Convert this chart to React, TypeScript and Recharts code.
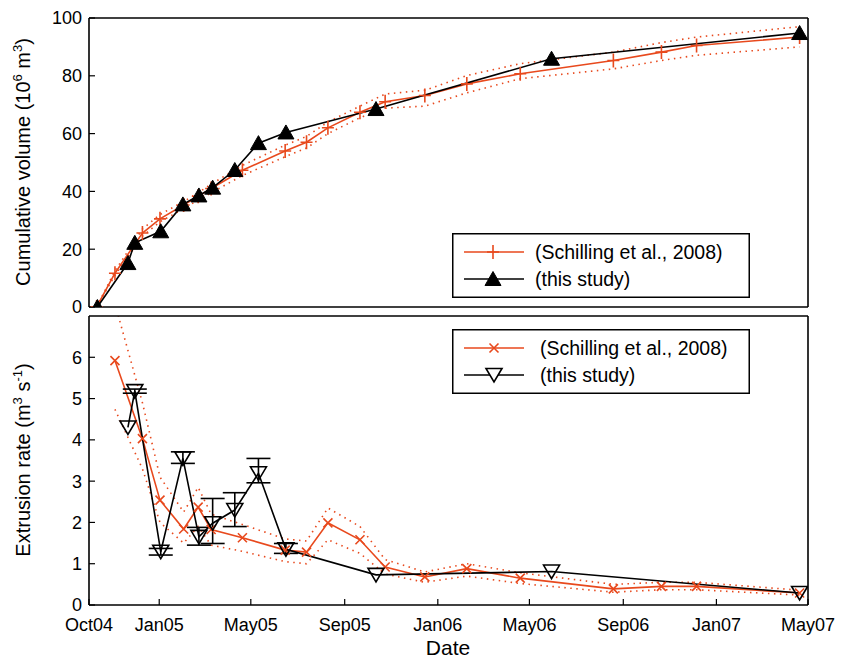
import React from "react";
import { LineChart, Line, XAxis, YAxis, ErrorBar, Legend } from "recharts";

const RED = "#e8491d";
const FONT = "'Liberation Sans', Arial, Helvetica, sans-serif";

const toTs = (s: string) => Date.parse(s + "T00:00:00Z");

// x axis
const xStart = "2004-10-01";
const xEnd = "2007-05-01";
const tickDates = ["2004-10-01", "2005-01-01", "2005-05-01", "2005-09-01", "2006-01-01", "2006-05-01", "2006-09-01", "2007-01-01", "2007-05-01"];
const tickLabels = ["Oct04", "Jan05", "May05", "Sep05", "Jan06", "May06", "Sep06", "Jan07", "May07"];

// Schilling et al. 2008
const schillingDates = [
  "2004-10-11", "2004-11-04", "2004-12-10", "2005-01-02", "2005-02-02", "2005-02-21", "2005-03-10",
  "2005-04-20", "2005-06-15", "2005-07-13", "2005-08-10", "2005-09-21", "2005-10-24", "2005-12-15",
  "2006-02-08", "2006-04-19", "2006-08-19", "2006-10-21", "2006-12-06", "2007-04-20",
];
const schillingVol = [0, 11.7, 25.6, 30.5, 35.3, 38.3, 41.0, 47.3, 54.0, 57.0, 62.0, 67.4, 71.0, 73.2, 77.2, 80.7, 85.3, 88.2, 90.5, 93.4];
const schillingVolHi = [0, 12.5, 27, 32, 36.5, 39.5, 42.5, 49, 56, 59, 64, 69.5, 73.7, 75, 80.1, 84.2, 88.2, 91.5, 93.4, 97];
const schillingVolLo = [0, 11, 24.5, 29.5, 34, 37, 39.5, 45.5, 52, 55, 60, 65.5, 68.8, 69.5, 74.1, 79, 82.4, 85.3, 87.1, 90];

// rates start from the second date
const schillingRate = [5.92, 4.03, 2.54, 1.84, 2.37, 1.83, 1.63, 1.33, 1.28, 1.99, 1.58, 0.92, 0.68, 0.88, 0.65, 0.39, 0.45, 0.45, 0.29];
const schillingRateHi = [7.3, 4.9, 3.1, 2.25, 2.85, 2.2, 1.95, 1.6, 1.55, 2.35, 1.9, 1.1, 0.8, 1.0, 0.78, 0.5, 0.55, 0.55, 0.36];
const schillingRateLo = [4.74, 3.3, 2.0, 1.5, 1.9, 1.45, 1.3, 1.05, 1.0, 1.58, 1.25, 0.75, 0.55, 0.7, 0.52, 0.31, 0.37, 0.37, 0.24];

// this study
const studyDates = [
  "2004-10-12", "2004-11-21", "2004-11-30", "2005-01-03", "2005-02-01", "2005-02-22", "2005-03-12",
  "2005-04-10", "2005-05-11", "2005-06-16", "2005-10-12", "2006-05-30", "2007-04-20",
];
const studyVol = [0, 15.2, 22.2, 26.2, 35.5, 38.6, 41.3, 47.4, 56.7, 60.4, 68.5, 85.9, 94.8];
// rates start from the second date
const studyRate = [4.3, 5.18, 1.29, 3.55, 1.65, 1.98, 2.3, 3.19, 1.35, 0.73, 0.81, 0.29];
const studyRateErrLo = [null, 0.05, 0.08, 0.12, 0.2, 0.49, 0.4, 0.23, 0.1, null, null, null];
const studyRateErrHi = [null, 0.05, 0.08, 0.16, 0.23, 0.6, 0.42, 0.36, 0.14, null, null, null];

const volTicks = [0, 20, 40, 60, 80, 100];
const rateTicks = [0, 1, 2, 3, 4, 5, 6];

const schillingVolRows = schillingDates.map((d, i) => ({ t: toTs(d), v: schillingVol[i], hi: schillingVolHi[i], lo: schillingVolLo[i] }));
const studyVolRows = studyDates.map((d, i) => ({ t: toTs(d), v: studyVol[i] }));
const schillingRateRows = schillingDates.slice(1).map((d, i) => ({ t: toTs(d), v: schillingRate[i], hi: schillingRateHi[i], lo: schillingRateLo[i] }));
const studyRateRows = studyDates.slice(1).map((d, i) => ({
  t: toTs(d),
  v: studyRate[i],
  err: studyRateErrLo[i] == null ? null : [studyRateErrLo[i], studyRateErrHi[i]],
}));

const xTicks = tickDates.map(toTs);
const xDomain = [toTs(xStart), toTs(xEnd)];
const fmtX = (t: number) => tickLabels[xTicks.indexOf(t)] ?? "";

const Plus = ({ cx, cy }: any) => (
  <path d={`M${cx - 6},${cy}H${cx + 6}M${cx},${cy - 7}V${cy + 7}`} stroke={RED} strokeWidth={1.6} fill="none" />
);
const Cross = ({ cx, cy }: any) => (
  <path d={`M${cx - 4.5},${cy - 4.5}L${cx + 4.5},${cy + 4.5}M${cx - 4.5},${cy + 4.5}L${cx + 4.5},${cy - 4.5}`} stroke={RED} strokeWidth={1.6} fill="none" />
);
const TriUp = ({ cx, cy }: any) => (
  <path d={`M${cx},${cy - 7.5}L${cx + 8},${cy + 6.5}L${cx - 8},${cy + 6.5}Z`} fill="#000" stroke="#000" strokeWidth={1} />
);
const TriDown = ({ cx, cy, fill = "none" }: any) => (
  <path d={`M${cx - 8},${cy - 6.5}L${cx + 8},${cy - 6.5}L${cx},${cy + 7}Z`} fill={fill} stroke="#000" strokeWidth={1.6} />
);

const dotOf = (C: any) => (p: any) => (p.cx == null ? <g key={p.index} /> : <C key={p.index} cx={p.cx} cy={p.cy} />);

const LegendBox = ({ marker }: { marker: "vol" | "rate" }) => (
  <svg width={298} height={65} style={{ display: "block" }}>
    <rect x={0.75} y={0.75} width={296.5} height={63.5} fill="#fff" stroke="#000" strokeWidth={1.5} />
    <line x1={12} x2={72} y1={19} y2={19} stroke={RED} strokeWidth={1.5} />
    {marker === "vol" ? <Plus cx={41} cy={19} /> : <Cross cx={42} cy={19} />}
    <line x1={12} x2={72} y1={46} y2={46} stroke="#000" strokeWidth={1.5} />
    {marker === "vol" ? <TriUp cx={41} cy={46} /> : <TriDown cx={42} cy={46} fill="#fff" />}
    <text x={marker === "vol" ? 83 : 88} y={19} dy="0.36em" fontSize={19.5} fontFamily={FONT}>(Schilling et al., 2008)</text>
    <text x={marker === "vol" ? 83 : 88} y={46} dy="0.36em" fontSize={19.5} fontFamily={FONT}>(this study)</text>
  </svg>
);

const VolLabel = () => (
  <text x={30} y={162} transform="rotate(-90, 30, 162)" textAnchor="middle" fontSize={20} fontFamily={FONT} fill="#000">
    Cumulative volume (10<tspan dy={-8} fontSize={13}>6</tspan><tspan dy={8}> m</tspan><tspan dy={-8} fontSize={13}>3</tspan><tspan dy={8}>)</tspan>
  </text>
);
const RateLabel = () => (
  <text x={30} y={152} transform="rotate(-90, 30, 152)" textAnchor="middle" fontSize={20} fontFamily={FONT} fill="#000">
    Extrusion rate (m<tspan dy={-8} fontSize={13}>3</tspan><tspan dy={8}> s</tspan><tspan dy={-8} fontSize={13}>-1</tspan><tspan dy={8}>)</tspan>
  </text>
);
const DateLabel = () => (
  <text x={448} y={347} textAnchor="middle" fontSize={21} fontFamily={FONT} fill="#000">Date</text>
);

const axisLine = { stroke: "#000", strokeWidth: 1.6 };
const tickLine = { stroke: "#000", strokeWidth: 1.2 };
const tickFont = { fontSize: 18, fontFamily: FONT, fill: "#000" };

export default function App() {
  return (
    <div style={{ position: "absolute", left: 0, top: 0, width: 851, height: 661, background: "#fff", fontFamily: FONT }}>
      <div style={{ position: "absolute", left: 0, top: 0 }}>
        <LineChart width={851} height={318} margin={{ top: 17, right: 0, bottom: 0, left: 0 }}>
          <XAxis xAxisId="b" type="number" dataKey="t" domain={xDomain} ticks={xTicks} interval={0} tick={false}
            height={11} tickSize={-6} axisLine={axisLine} tickLine={tickLine} allowDataOverflow />
          <XAxis xAxisId="t" orientation="top" type="number" dataKey="t" domain={xDomain} ticks={xTicks} interval={0} tick={false}
            height={1} tickSize={-6} axisLine={axisLine} tickLine={tickLine} allowDataOverflow />
          <YAxis yAxisId="l" type="number" domain={[0, 100]} ticks={volTicks} interval={0} width={89} tickSize={-6} tickMargin={13}
            axisLine={axisLine} tickLine={tickLine} tick={tickFont} label={<VolLabel />} allowDataOverflow />
          <YAxis yAxisId="r" orientation="right" type="number" domain={[0, 100]} ticks={volTicks} interval={0} width={43} tickSize={-6}
            tick={false} axisLine={axisLine} tickLine={tickLine} allowDataOverflow />
          <Line xAxisId="b" yAxisId="l" data={schillingVolRows} dataKey="hi" stroke={RED} strokeWidth={1.6} strokeDasharray="1.5 4.5" dot={false} isAnimationActive={false} />
          <Line xAxisId="b" yAxisId="l" data={schillingVolRows} dataKey="lo" stroke={RED} strokeWidth={1.6} strokeDasharray="1.5 4.5" dot={false} isAnimationActive={false} />
          <Line xAxisId="b" yAxisId="l" data={schillingVolRows} dataKey="v" stroke={RED} strokeWidth={1.6} dot={dotOf(Plus)} isAnimationActive={false} />
          <Line xAxisId="b" yAxisId="l" data={studyVolRows} dataKey="v" stroke="#000" strokeWidth={1.6} dot={dotOf(TriUp)} isAnimationActive={false} />
          <Legend layout="vertical" align="center" verticalAlign="middle" content={() => <LegendBox marker="vol" />}
            wrapperStyle={{ position: "absolute", left: 452, top: 233, width: 298, height: 65 }} />
        </LineChart>
      </div>
      <div style={{ position: "absolute", left: 0, top: 308 }}>
        <LineChart width={851} height={353} margin={{ top: 7, right: 0, bottom: 0, left: 0 }}>
          <XAxis xAxisId="b" type="number" dataKey="t" domain={xDomain} ticks={xTicks} interval={0} tickFormatter={fmtX}
            height={56} tickSize={-6} tickMargin={19} tick={tickFont} axisLine={axisLine} tickLine={tickLine} label={<DateLabel />} allowDataOverflow />
          <XAxis xAxisId="t" orientation="top" type="number" dataKey="t" domain={xDomain} ticks={xTicks} interval={0} tick={false}
            height={1} tickSize={-6} axisLine={axisLine} tickLine={tickLine} allowDataOverflow />
          <YAxis yAxisId="l" type="number" domain={[0, 7]} ticks={rateTicks} interval={0} width={89} tickSize={-6} tickMargin={13}
            axisLine={axisLine} tickLine={tickLine} tick={tickFont} label={<RateLabel />} allowDataOverflow />
          <YAxis yAxisId="r" orientation="right" type="number" domain={[0, 7]} ticks={rateTicks} interval={0} width={43} tickSize={-6}
            tick={false} axisLine={axisLine} tickLine={tickLine} allowDataOverflow />
          <Line xAxisId="b" yAxisId="l" data={schillingRateRows} dataKey="hi" stroke={RED} strokeWidth={1.6} strokeDasharray="1.5 4.5" dot={false} isAnimationActive={false} />
          <Line xAxisId="b" yAxisId="l" data={schillingRateRows} dataKey="lo" stroke={RED} strokeWidth={1.6} strokeDasharray="1.5 4.5" dot={false} isAnimationActive={false} />
          <Line xAxisId="b" yAxisId="l" data={schillingRateRows} dataKey="v" stroke={RED} strokeWidth={1.6} dot={dotOf(Cross)} isAnimationActive={false} />
          <Line xAxisId="b" yAxisId="l" data={studyRateRows} dataKey="v" stroke="#000" strokeWidth={1.6} dot={dotOf(TriDown)} isAnimationActive={false}>
            <ErrorBar dataKey="err" direction="y" width={12} stroke="#000" strokeWidth={1.6} />
          </Line>
          <Legend layout="vertical" align="center" verticalAlign="middle" content={() => <LegendBox marker="rate" />}
            wrapperStyle={{ position: "absolute", left: 452, top: 21, width: 298, height: 65 }} />
        </LineChart>
      </div>
    </div>
  );
}
